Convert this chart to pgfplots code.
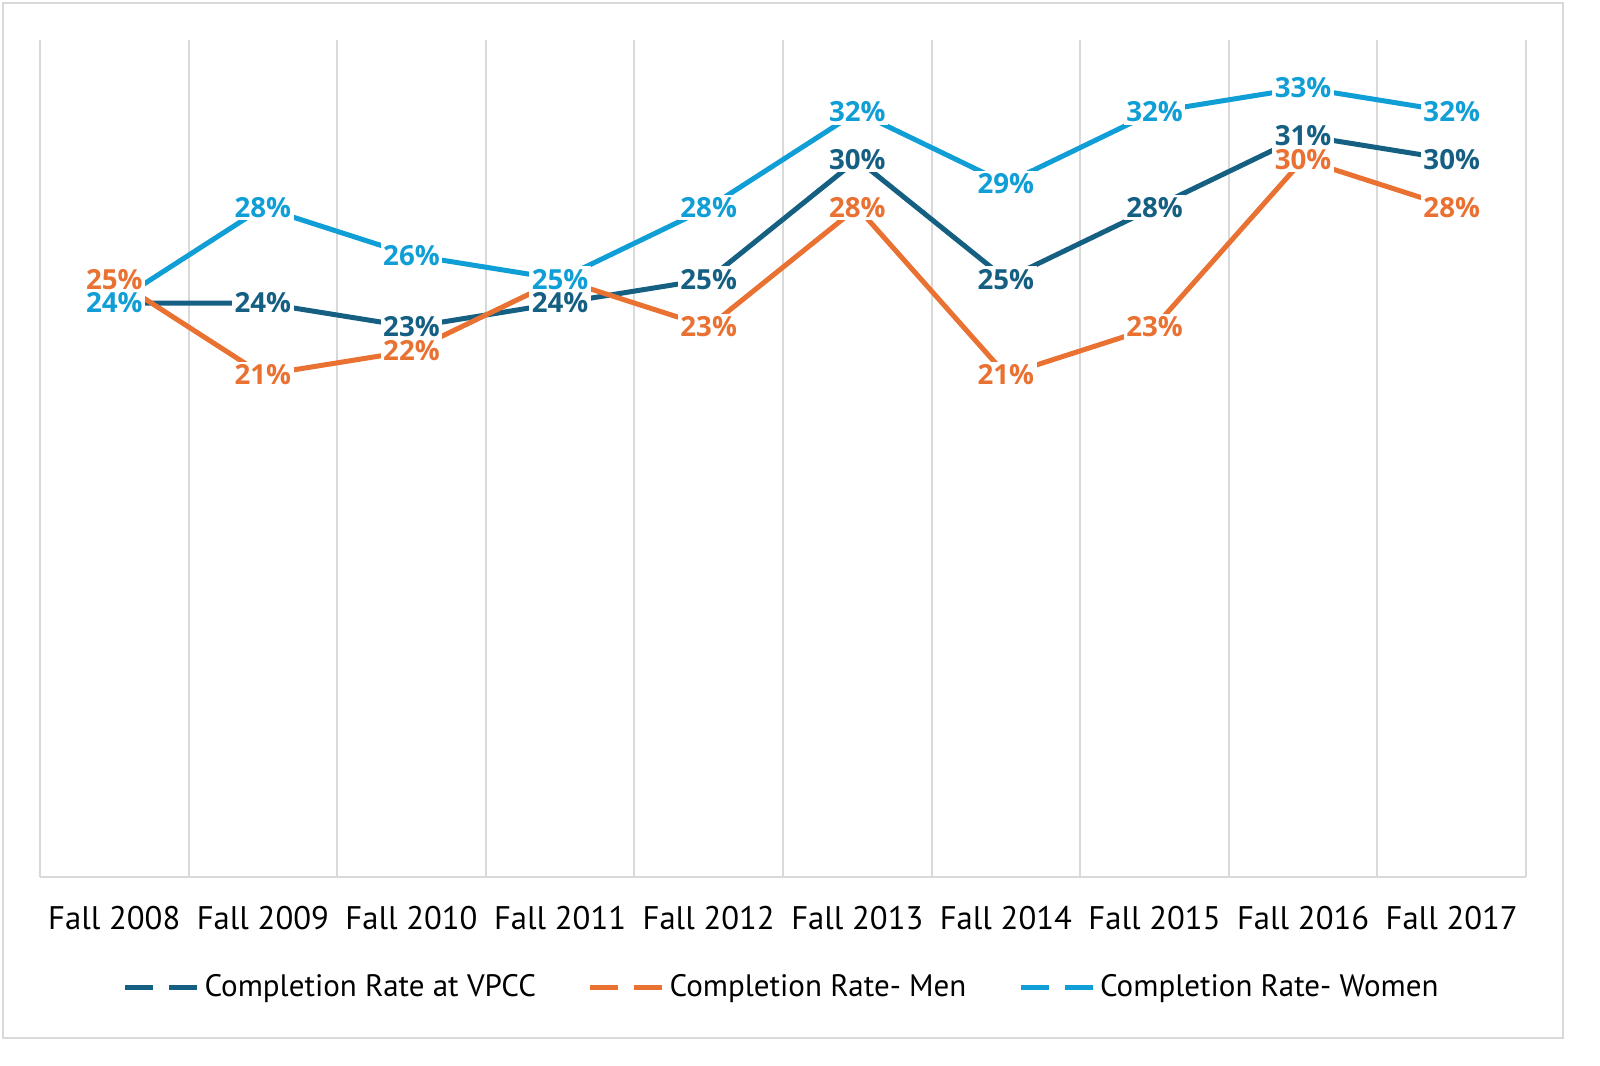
\documentclass[border=0pt]{standalone}
\usepackage{fontspec}
\setmainfont{PT Sans}
\newfontfamily\lblfont{Open Sans}
\usepackage{pgfplots}
\usepackage{pgfplotstable}
\pgfplotsset{compat=1.18}

\definecolor{vpcc}{HTML}{156082}
\definecolor{men}{HTML}{E97132}
\definecolor{women}{HTML}{0F9ED5}
\definecolor{gridgray}{HTML}{D9D9D9}

% completion rates in percent, x = 0 .. 9 for Fall 2008 .. Fall 2017
\pgfplotstableread{
x vpcc men women
0 24 25 24
1 24 21 28
2 23 22 26
3 24 25 25
4 25 23 28
5 30 28 32
6 25 21 29
7 28 23 32
8 31 30 33
9 30 28 32
}\rates

\pgfplotsset{
  lbl/.style={draw=none, mark=none, forget plot,
    nodes near coords={\pgfmathprintnumber[fixed,precision=0,assume math mode=true]{\pgfplotspointmeta}\%},
    nodes near coords align={center},
    every node near coord/.append style={anchor=center, fill=white, inner sep=0.8pt,
      text=#1, font=\lblfont\bfseries\fontsize{8.3}{9}\selectfont}},
}

\begin{document}
\begin{tikzpicture}
\useasboundingbox (0,0) rectangle (480pt,319.5pt);
\draw[gridgray, line width=0.6pt] (0.9pt,8.1pt) rectangle (468.9pt,318.6pt);
\begin{axis}[
  at={(12pt,56.4pt)}, anchor=south west,
  width=445.8pt, height=251.1pt, scale only axis,
  xmin=-0.5, xmax=9.5, ymin=0, ymax=35,
  axis x line=bottom, axis y line=none,
  x axis line style={gridgray, line width=0.6pt, -},
  xtick={0,...,9},
  xticklabels={Fall 2008,Fall 2009,Fall 2010,Fall 2011,Fall 2012,Fall 2013,Fall 2014,Fall 2015,Fall 2016,Fall 2017},
  xticklabel style={anchor=center, yshift=-12.3pt, font=\fontsize{9.8}{12}\selectfont},
  minor xtick={-0.5,0.5,...,9.5},
  xminorgrids, minor x grid style={gridgray, line width=0.6pt},
  major tick length=0pt, minor tick length=0pt,
  clip=false,
  legend columns=3,
  legend cell align=left,
  legend style={at={(0.5,-0.1326)}, anchor=center, draw=none, fill=none,
    font=\fontsize{9.3}{11}\selectfont,
    nodes={inner xsep=1.5pt},
    /tikz/every even column/.append style={column sep=14pt}},
  legend image code/.code={\draw[#1, dash pattern=on 8.4pt off 4.8pt] (0pt,0pt) -- (21.6pt,0pt);},
]
\addplot[vpcc, line width=1.5pt] table[x=x, y=vpcc] {\rates};
\addlegendentry{Completion Rate at VPCC}
\addplot[men, line width=1.5pt] table[x=x, y=men] {\rates};
\addlegendentry{Completion Rate- Men}
\addplot[women, line width=1.5pt] table[x=x, y=women] {\rates};
\addlegendentry{Completion Rate- Women}

\addplot[lbl=vpcc] table[x=x, y=vpcc] {\rates};
\addplot[lbl=men] table[x=x, y=men] {\rates};
\addplot[lbl=women] table[x=x, y=women] {\rates};
\end{axis}
\end{tikzpicture}
\end{document}
